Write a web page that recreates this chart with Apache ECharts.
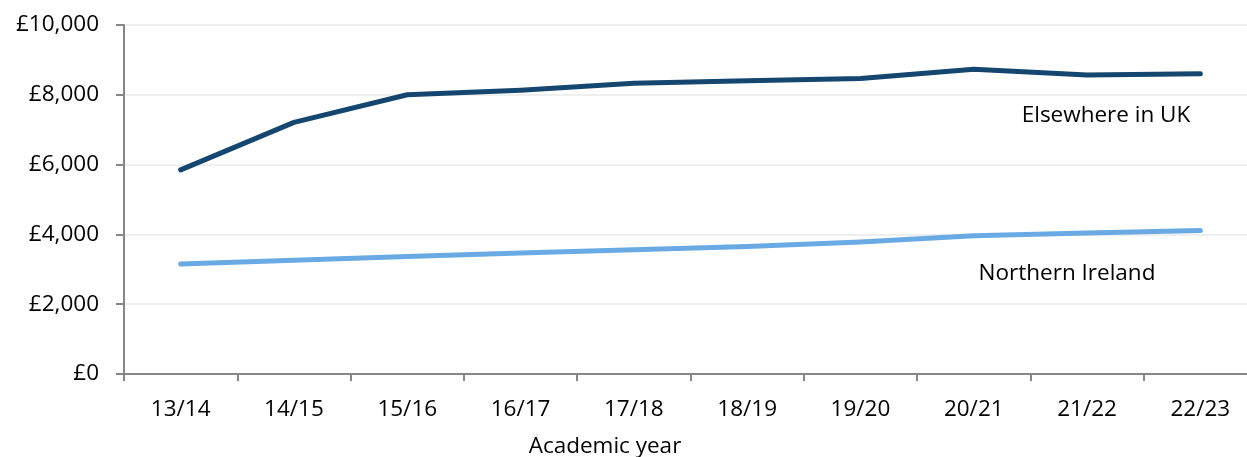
<!DOCTYPE html>
<html>
<head>
<meta charset="utf-8">
<script src="https://cdn.jsdelivr.net/npm/echarts@6/dist/echarts.min.js"></script>
<style>
  html, body { margin: 0; padding: 0; background: #ffffff; }
  #chart { width: 1247px; height: 457px; }
</style>
</head>
<body>
<div id="chart"></div>
<script>
// Academic years on the category axis
const years = ['13/14', '14/15', '15/16', '16/17', '17/18', '18/19', '19/20', '20/21', '21/22', '22/23'];

// Average amounts (£) per academic year
const elsewhereInUK = [5850, 7210, 8000, 8130, 8330, 8400, 8470, 8730, 8570, 8600];
const northernIreland = [3150, 3260, 3370, 3470, 3560, 3650, 3780, 3960, 4040, 4110];

// Value axis range and step
const yMin = 0;
const yMax = 10000;
const yStep = 2000;

const FONT = '"Open Sans", Lato, sans-serif';
const FS = 22.5;

const chart = echarts.init(document.getElementById('chart'), null, { renderer: 'canvas' });

chart.setOption({
  animation: false,
  backgroundColor: '#ffffff',
  // plot area runs slightly past the right edge of the canvas
  grid: { left: 124, width: 1133, top: 25, height: 349, containLabel: false, outerBoundsMode: 'none' },
  xAxis: {
    type: 'category',
    data: years,
    boundaryGap: true,
    axisLine: { lineStyle: { color: '#868686', width: 2 } },
    axisTick: { show: true, length: 7, lineStyle: { color: '#868686', width: 2 } },
    axisLabel: { color: '#000000', fontSize: FS, fontFamily: FONT, margin: 24 },
    splitLine: { show: false }
  },
  yAxis: {
    type: 'value',
    min: yMin,
    max: yMax,
    interval: yStep,
    axisLine: { show: true, lineStyle: { color: '#868686', width: 2 } },
    axisTick: { show: true, length: 8, lineStyle: { color: '#868686', width: 2 } },
    axisLabel: {
      color: '#000000', fontSize: FS, fontFamily: FONT, margin: 25,
      formatter: v => '£' + v.toLocaleString('en-GB')
    },
    splitLine: { show: true, lineStyle: { color: '#efefef', width: 2 } }
  },
  series: [
    {
      name: 'Elsewhere in UK',
      type: 'line',
      data: elsewhereInUK,
      symbol: 'none',
      smooth: false,
      lineStyle: { color: '#15466f', width: 5, cap: 'round', join: 'round' }
    },
    {
      name: 'Northern Ireland',
      type: 'line',
      data: northernIreland,
      symbol: 'none',
      smooth: false,
      lineStyle: { color: '#6aaae4', width: 5, cap: 'round', join: 'round' }
    }
  ],
  graphic: [
    {
      type: 'text', x: 1106, y: 116,
      style: { text: 'Elsewhere in UK', fill: '#000000', fontSize: FS, fontFamily: FONT, align: 'center', verticalAlign: 'middle' }
    },
    {
      type: 'text', x: 1067, y: 274,
      style: { text: 'Northern Ireland', fill: '#000000', fontSize: FS, fontFamily: FONT, align: 'center', verticalAlign: 'middle' }
    },
    {
      type: 'text', x: 605, y: 447,
      style: { text: 'Academic year', fill: '#000000', fontSize: FS, fontFamily: FONT, align: 'center', verticalAlign: 'middle' }
    }
  ]
});
</script>
</body>
</html>
